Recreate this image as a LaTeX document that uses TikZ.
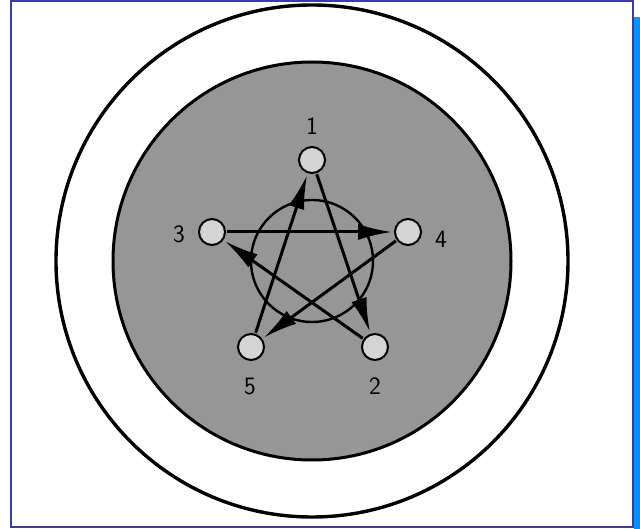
\documentclass[tikz,border=0pt]{standalone}
\usepackage{tikz}
\usetikzlibrary{arrows.meta}
\definecolor{figMarco}{RGB}{60,60,160}
\definecolor{figSombra}{RGB}{0,144,255}
\definecolor{figDisco}{RGB}{150,150,150}
\definecolor{figNodo}{RGB}{212,212,212}
\tikzset{
  estacion/.style={
    circle, draw=black, line width=2pt, fill=figNodo,
    minimum size=26pt, inner sep=0pt
  },
  etiqueta/.style={
    font=\fontsize{25}{25}\sffamily, inner sep=0pt
  },
  flecha/.style={-{Latex[length=34pt, width=16pt]}, line width=3pt, shorten >=2pt, shorten <=1pt}
}
\begin{document}
\begin{tikzpicture}[x=1pt, y=-1pt]
  \useasboundingbox (0,0) rectangle (640,529);
  \fill[figSombra] (634,17) rectangle (640,529);
  \draw[figMarco, line width=2pt] (11,1) rectangle (633,527);

  \coordinate (centro) at (312,261);
  \draw[line width=3.4pt] (centro) circle (256);
  \draw[line width=3pt, fill=figDisco] (centro) circle (199);
  \draw[line width=2.4pt] (centro) circle (61);

  \node[estacion] (n1) at (312,160) {};
  \node[estacion] (n4) at (408,232) {};
  \node[estacion] (n2) at (375,347) {};
  \node[estacion] (n5) at (251,347) {};
  \node[estacion] (n3) at (212,232) {};

  \node[etiqueta] (l1) at (312,126) {1};
  \node[etiqueta] (l4) at (441,239) {4};
  \node[etiqueta] (l3) at (179,234) {3};
  \node[etiqueta] (l5) at (250,386) {5};
  \node[etiqueta] (l2) at (375,386) {2};

  \draw[flecha] (n5) -- (n1);
  \draw[flecha] (n1) -- (n2);
  \draw[flecha] (n2) -- (n3);
  \draw[flecha] (n3) -- (n4);
  \draw[flecha] (n4) -- (n5);
\end{tikzpicture}
\end{document}
